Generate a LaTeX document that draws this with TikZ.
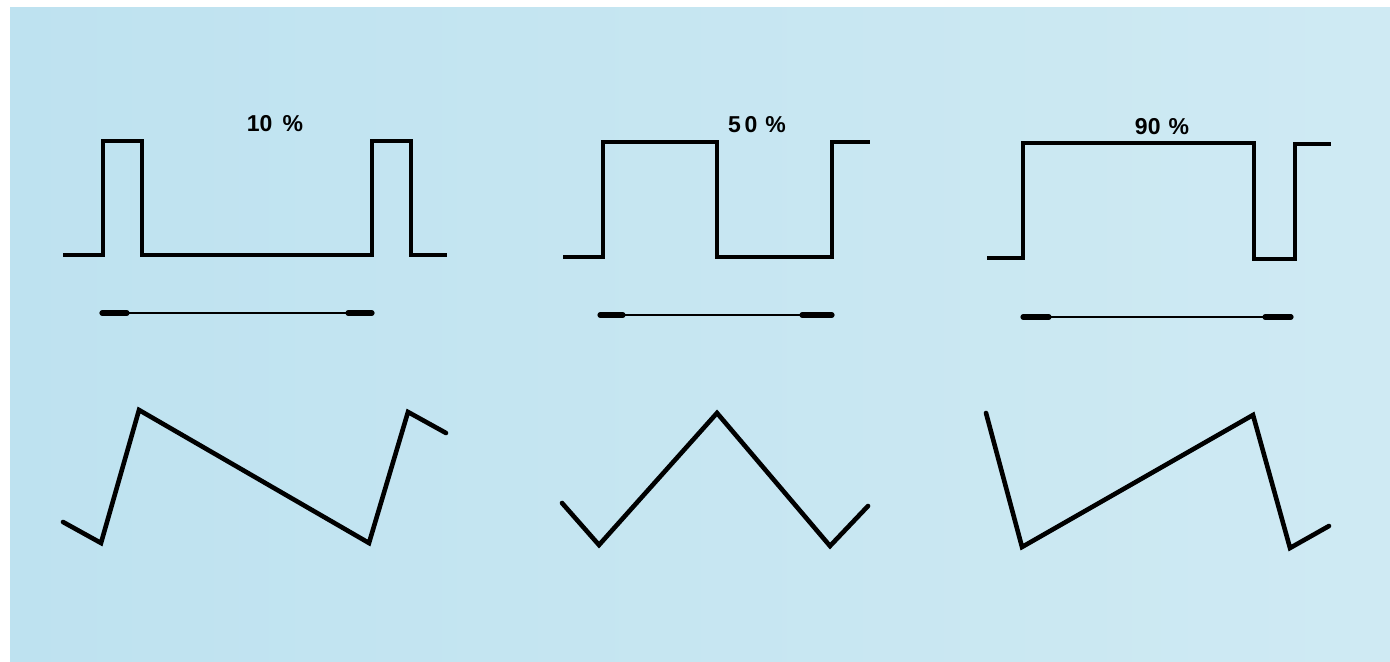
\documentclass[tikz,border=0pt]{standalone}
\usepackage{fontspec}
\setmainfont{Liberation Sans}
\begin{document}
\begin{tikzpicture}[x=0.5pt,y=-0.5pt,
  wave/.style={line width=2.3pt,line join=miter,line cap=butt},
  thinline/.style={line width=0.8pt},
  thickend/.style={line width=2.6pt,line cap=round},
  lbl/.style={font=\bfseries\fontsize{11.5}{13}\selectfont,inner sep=0pt}]
\definecolor{bgL}{RGB}{190,226,240}
\definecolor{bgR}{RGB}{207,234,243}
\useasboundingbox (0,0) rectangle (1390,662);
\fill[white] (0,0) rectangle (1390,662);
\shade[left color=bgL,right color=bgR] (10,8) rectangle (1390,662);
% labels
\node[lbl] (l10) at (275,124) {10\hspace{0.45em}\%};
\node[lbl] (l50) at (757,125) {5\,0\hspace{0.35em}\%};
\node[lbl] (l90) at (1162,127) {90\hspace{0.35em}\%};
% square waves
\draw[wave] (63,255) -- (103,255) -- (103,141) -- (142,141) -- (142,255) -- (372,255) -- (372,141) -- (411,141) -- (411,255) -- (447,255);
\draw[wave] (563,257) -- (603,257) -- (603,142) -- (717,142) -- (717,257) -- (832,257) -- (832,142) -- (870,142);
\draw[wave] (987,258) -- (1023,258) -- (1023,143) -- (1254,143) -- (1254,259) -- (1295,259) -- (1295,144) -- (1331,144);
% period lines
\coordinate (a1) at (102,313); \coordinate (b1) at (372,313);
\draw[thinline] (a1) -- (b1);
\draw[thickend] (a1) -- ++(25,0);
\draw[thickend] (b1) -- ++(-24,0);
\coordinate (a2) at (600,315); \coordinate (b2) at (832,315);
\draw[thinline] (a2) -- (b2);
\draw[thickend] (a2) -- ++(23,0);
\draw[thickend] (b2) -- ++(-30,0);
\coordinate (a3) at (1023,317); \coordinate (b3) at (1291,317);
\draw[thinline] (a3) -- (b3);
\draw[thickend] (a3) -- ++(26,0);
\draw[thickend] (b3) -- ++(-26,0);
% triangle / sawtooth waves
\draw[wave,line cap=round] (63,522) -- (101,543) -- (139,410) -- (369,543) -- (408,412) -- (446,433);
\draw[wave,line cap=round] (562,503) -- (599,545) -- (717,413) -- (830,546) -- (868,506);
\draw[wave,line cap=round] (986,413) -- (1022,547) -- (1253,415) -- (1290,548) -- (1329,526);
\end{tikzpicture}
\end{document}
